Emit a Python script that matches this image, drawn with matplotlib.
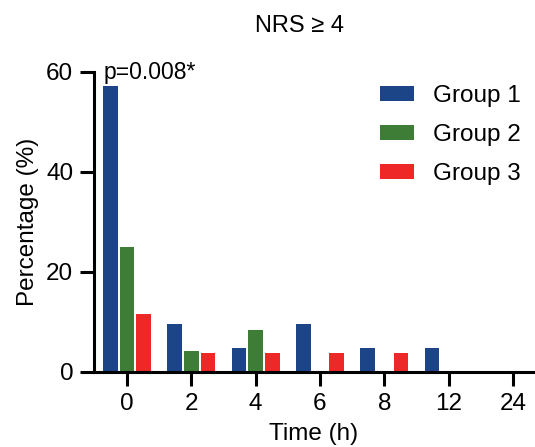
import numpy as np
import matplotlib
matplotlib.use('Agg')
import matplotlib.pyplot as plt

plt.rcParams['font.family'] = ['Liberation Sans', 'DejaVu Sans']

times = ['0', '2', '4', '6', '8', '12', '24']
group1 = [57.1, 9.5, 4.8, 9.5, 4.8, 4.8, 0]
group2 = [25.0, 4.2, 8.3, 0, 0, 0, 0]
group3 = [11.5, 3.8, 3.8, 3.8, 3.8, 0, 0]
groups = ['Group 1', 'Group 2', 'Group 3']
colors = ['#1c4587', '#3d7d35', '#ee2727']

fig = plt.figure(figsize=(5.35, 4.47), dpi=100)
ax = fig.add_axes([0.176, 0.168, 0.82, 0.671])

x = np.arange(len(times))
width = 0.228
step = 0.26
for i, (vals, name, c) in enumerate(zip([group1, group2, group3], groups, colors)):
    ax.bar(x + (i - 1) * step, vals, width=width, color=c, label=name)

ax.set_xlim(-0.51, 6.31)
ax.set_ylim(0, 60)
ax.set_yticks([0, 20, 40, 60])
ax.set_xticks(x)
ax.set_xticklabels(times)
for s in ['top', 'right']:
    ax.spines[s].set_visible(False)
for s in ['left', 'bottom']:
    ax.spines[s].set_linewidth(2.2)
ax.tick_params(axis='both', length=10, width=2.2, labelsize=17.5, pad=5)

ax.set_xlabel('Time (h)', fontsize=17.5, labelpad=6)
ax.set_ylabel('Percentage (%)', fontsize=17.5, labelpad=5)
fig.text(0.56, 0.942, 'NRS \u2265 4', ha='center', va='center', fontsize=17)
ax.text(-0.36, 57.6, 'p=0.008*', fontsize=16.5, ha='left', va='bottom')

ax.legend(loc='upper left', bbox_to_anchor=(380 / 535, 1 - 85 / 447),
          bbox_transform=fig.transFigure, frameon=False, fontsize=17.5,
          borderpad=0, borderaxespad=0,
          handlelength=1.4, handleheight=0.55, labelspacing=0.7, handletextpad=0.8)

fig.savefig('out.png', dpi=100)
